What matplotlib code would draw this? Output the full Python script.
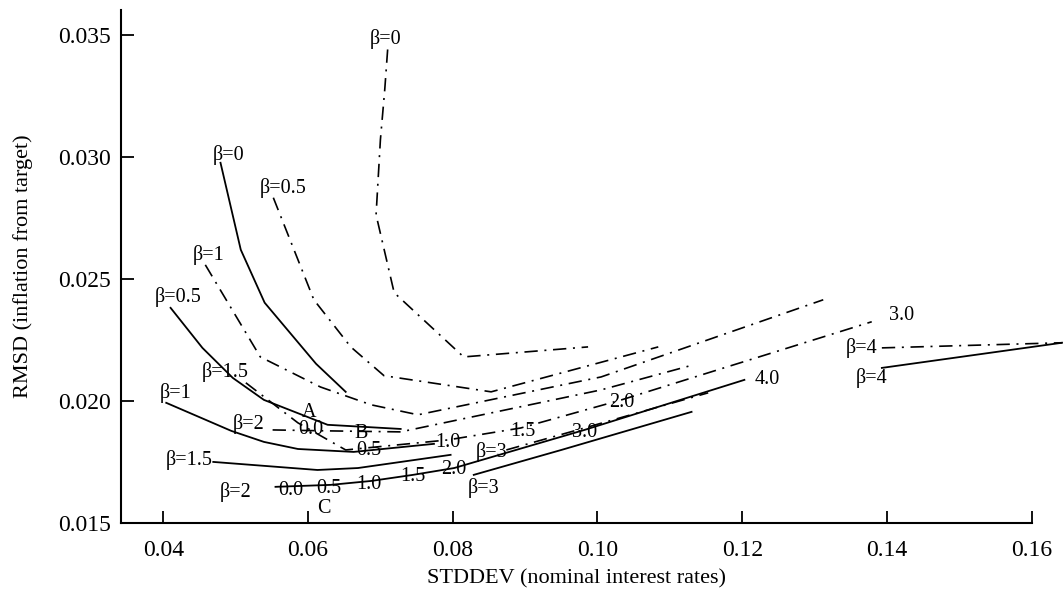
import matplotlib
matplotlib.use("Agg")
import matplotlib.pyplot as plt

plt.rcParams['font.family'] = ['Liberation Serif', 'DejaVu Serif']

# frontiers for the first rule family (solid lines)
sol_b0_x = [0.0479, 0.0507, 0.0540, 0.0611, 0.0652]
sol_b0_y = [0.02975, 0.02619, 0.02402, 0.02152, 0.02037]
sol_b05_x = [0.0410, 0.0454, 0.0496, 0.0539, 0.0627, 0.0728]
sol_b05_y = [0.02381, 0.02217, 0.02094, 0.02004, 0.01902, 0.01885]
sol_b1_x = [0.0404, 0.0494, 0.0539, 0.0586, 0.0663, 0.0774]
sol_b1_y = [0.01992, 0.01877, 0.01832, 0.01803, 0.01791, 0.01824]
sol_b15_x = [0.0469, 0.0613, 0.0669, 0.0797]
sol_b15_y = [0.01750, 0.01717, 0.01725, 0.01779]
sol_b2_x = [0.0555, 0.0631, 0.0687, 0.0745, 0.0802, 0.0982, 0.1203]
sol_b2_y = [0.01648, 0.01656, 0.01672, 0.01697, 0.01725, 0.01881, 0.02086]
sol_b3_x = [0.0829, 0.0950, 0.1130]
sol_b3_y = [0.01697, 0.01799, 0.01955]
sol_b4_x = [0.1393, 0.1642]
sol_b4_y = [0.02135, 0.02238]

# frontiers for the second rule family (dash-dot lines)
dd_b0_x = [0.0710, 0.0706, 0.0700, 0.0694, 0.0719, 0.0815, 0.0987]
dd_b0_y = [0.03439, 0.03275, 0.03070, 0.02762, 0.02443, 0.02180, 0.02221]
dd_b05_x = [0.0552, 0.0608, 0.0659, 0.0705, 0.0853, 0.1084]
dd_b05_y = [0.02832, 0.02414, 0.02221, 0.02103, 0.02037, 0.02221]
dd_b1_x = [0.0458, 0.0534, 0.0617, 0.0687, 0.0752, 0.1005, 0.1312]
dd_b1_y = [0.02557, 0.02180, 0.02057, 0.01984, 0.01943, 0.02098, 0.02414]
dd_b15_x = [0.0514, 0.0586, 0.0652, 0.0793, 0.0894, 0.1033, 0.1379]
dd_b15_y = [0.02074, 0.01910, 0.01799, 0.01840, 0.01889, 0.02004, 0.02324]
dd_b2_x = [0.0551, 0.0631, 0.0728, 0.1005, 0.1127]
dd_b2_y = [0.01881, 0.01877, 0.01873, 0.02045, 0.02143]
dd_b3_x = [0.0874, 0.0982, 0.1153]
dd_b3_y = [0.01799, 0.01889, 0.02033]
dd_b4_x = [0.1393, 0.1642]
dd_b4_y = [0.02217, 0.02238]

# curve labels: text, x, y
labels = [
    ("β=0", 0.0707, 0.03480), ("β=0", 0.0490, 0.03008),
    ("β=0.5", 0.0565, 0.02873), ("β=1", 0.0462, 0.02598),
    ("β=0.5", 0.0421, 0.02426), ("β=1.5", 0.0486, 0.02119),
    ("β=1", 0.0417, 0.02033), ("β=2", 0.0518, 0.01906),
    ("A", 0.0601, 0.01951), ("0.0", 0.0604, 0.01881),
    ("B", 0.0673, 0.01865), ("0.5", 0.0684, 0.01795),
    ("β=1.5", 0.0436, 0.01758), ("1.0", 0.0793, 0.01828),
    ("1.5", 0.0897, 0.01873), ("2.0", 0.1033, 0.01992),
    ("3.0", 0.0982, 0.01869), ("β=3", 0.0853, 0.01791),
    ("β=2", 0.0500, 0.01627), ("0.0", 0.0576, 0.01635),
    ("0.5", 0.0628, 0.01643), ("1.0", 0.0684, 0.01656),
    ("1.5", 0.0745, 0.01689), ("2.0", 0.0802, 0.01717),
    ("β=3", 0.0843, 0.01643), ("C", 0.0622, 0.01561),
    ("4.0", 0.1234, 0.02086), ("3.0", 0.1420, 0.02348),
    ("β=4", 0.1365, 0.02217), ("β=4", 0.1379, 0.02094),
]

xticks = [0.04, 0.06, 0.08, 0.10, 0.12, 0.14, 0.16]
yticks = [0.015, 0.020, 0.025, 0.030, 0.035]

fig = plt.figure(figsize=(10.63, 5.97), dpi=100)
ax = fig.add_axes([0.1135, 0.124, 0.857, 0.859])

solid = [(sol_b0_x, sol_b0_y), (sol_b05_x, sol_b05_y), (sol_b1_x, sol_b1_y),
         (sol_b15_x, sol_b15_y), (sol_b2_x, sol_b2_y), (sol_b3_x, sol_b3_y),
         (sol_b4_x, sol_b4_y)]
dashdot = [(dd_b0_x, dd_b0_y), (dd_b05_x, dd_b05_y), (dd_b1_x, dd_b1_y),
           (dd_b15_x, dd_b15_y), (dd_b2_x, dd_b2_y), (dd_b3_x, dd_b3_y),
           (dd_b4_x, dd_b4_y)]

for xs, ys in solid:
    ax.plot(xs, ys, color='black', lw=1.3, clip_on=False)
for xs, ys in dashdot:
    ax.plot(xs, ys, color='black', lw=1.2, dashes=(8, 4, 1.2, 4), clip_on=False)

for txt, x, y in labels:
    ax.text(x, y, txt, fontsize=14.5, ha='center', va='center')

ax.set_xlim(0.0341, 0.16)
ax.set_ylim(0.015, 0.0360)
ax.set_xticks(xticks)
ax.set_xticklabels(["%.2f" % v for v in xticks])
ax.set_yticks(yticks)
ax.set_yticklabels(["%.3f" % v for v in yticks])
ax.tick_params(direction='in', length=9, width=1.3, labelsize=17)
ax.tick_params(axis='x', pad=12)
ax.tick_params(axis='y', pad=7)
ax.spines['top'].set_visible(False)
ax.spines['right'].set_visible(False)
ax.spines['left'].set_linewidth(1.5)
ax.spines['bottom'].set_linewidth(1.5)
ax.set_xlabel("STDDEV (nominal interest rates)", fontsize=16, labelpad=6)
ax.set_ylabel("RMSD (inflation from target)", fontsize=16, labelpad=18)

fig.savefig("out.png", dpi=100)
